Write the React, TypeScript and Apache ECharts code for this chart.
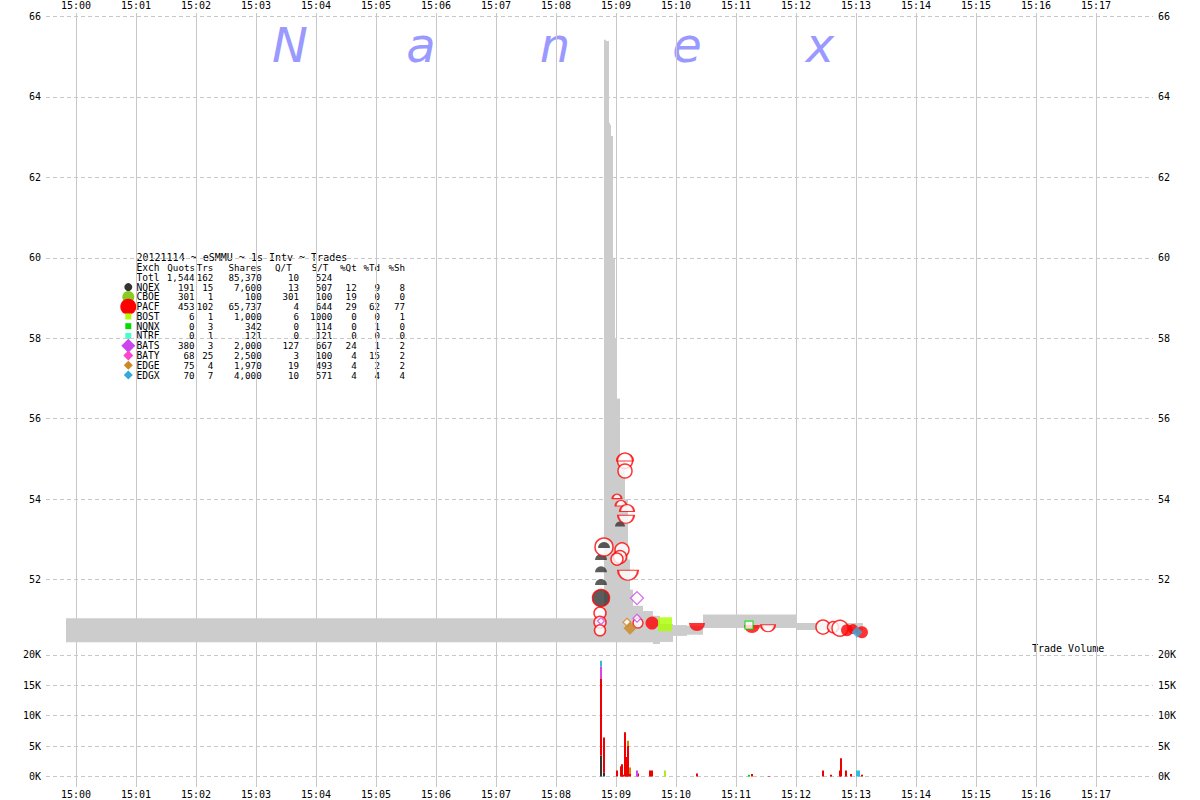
import React, { useEffect, useRef } from "react";
import * as echarts from "echarts";

// ---- axis ticks ----
const tickSeconds = [0, 60, 120, 180, 240, 300, 360, 420, 480, 540, 600, 660, 720, 780, 840, 900, 960, 1020];
const tickLabels = ["15:00", "15:01", "15:02", "15:03", "15:04", "15:05", "15:06", "15:07", "15:08", "15:09", "15:10", "15:11", "15:12", "15:13", "15:14", "15:15", "15:16", "15:17"];
const priceTicks = [52, 54, 56, 58, 60, 62, 64, 66];
const volumeTicks = [0, 5000, 10000, 15000, 20000];

// ---- NBBO band (seconds after 15:00) ----
const nbboTime = [-10, 528, 530, 533, 534, 535, 537, 539, 541, 544, 549, 552, 554, 557, 567, 577, 584, 597, 611, 627, 721, 787];
const nbboBid = [50.44, 50.44, 50.44, 50.44, 50.44, 50.44, 50.44, 50.44, 50.44, 50.44, 50.44, 50.44, 50.44, 50.44, 50.44, 50.40, 50.45, 50.60, 50.63, 50.80, 50.75];
const nbboAsk = [51.04, 65.42, 65.39, 63.36, 63.30, 63.03, 60.0, 58.0, 56.5, 55.0, 54.0, 52.5, 51.75, 51.35, 51.22, 51.10, 50.90, 50.87, 50.85, 51.13, 50.92];

// ---- trade markers [t, price, size] ----
const redOutlineCircles = [
  [549, 54.95, 15], [549, 54.70, 14], [528, 52.81, 18], [546, 52.74, 14], [544, 52.56, 13], [541, 52.51, 12],
  [524, 51.17, 12], [524, 50.94, 12], [524, 50.74, 11], [562, 50.92, 10], [747, 50.82, 14], [757, 50.82, 11], [764, 50.79, 16],
];
const redFilledCircles = [[576, 50.92, 13], [771, 50.74, 12], [777, 50.77, 10], [786, 50.69, 12]];
const darkCircles = [[525, 51.54, 17]];
const darkDomes = [[528, 52.86, 12], [525, 52.56, 12], [525, 52.26, 12], [525, 51.94, 12], [544, 53.38, 10]];
const redOutlineDomes = [[541, 54.07, 9], [545, 53.90, 11], [551, 53.78, 14], [549, 55.05, 16]];
const redOutlineBowls = [[550, 53.50, 16], [552, 52.11, 20], [692, 50.79, 14]];
const redFilledBowls = [[621, 50.82, 16], [676, 50.77, 16]];
const batsDiamonds = [[561, 51.54, 13], [561, 51.04, 8], [525, 50.97, 7]];
const edgeDiamonds = [[554, 50.79, 13]];
const edgeSmallDiamonds = [[551, 50.94, 8]];
const edgxDiamonds = [[781, 50.69, 11]];
const bostSquares = [[589, 50.89, 14]];
const nqnxSquares = [[673, 50.87, 8]];

// ---- volume [t, shares], listed bottom-to-top in stacking order ----
const volNQEX = [[525, 3460], [528, 600]];
const volPACF = [[525, 12600], [528, 5800], [541, 1000], [545, 1700], [546, 2000], [547, 300], [549, 7300], [550, 1000], [551, 3200], [552, 5000], [554, 400], [562, 500], [574, 1000], [576, 1000], [621, 500], [676, 400], [693, 100], [747, 1000], [755, 300], [764, 1000], [765, 3000], [770, 1000], [775, 400], [786, 300]];
const volBATS = [[561, 1000]];
const volBOST = [[589, 1000]];
const volNQNX = [[673, 300]];
const volEDGE = [[552, 900], [554, 1100]];
const volBATY = [[525, 2000]];
const volEDGX = [[525, 1000], [781, 1000], [783, 1000]];

// ---- summary table ----
const tableTitle = "20121114 ~ eSMMU ~ 1s Intv ~ Trades";
const tableHeader = ["Exch", "Quots", "Trs", "Shares", "Q/T", "S/T", "%Qt", "%Td", "%Sh"];
const tableExch = ["Totl", "NQEX", "CBOE", "PACF", "BOST", "NQNX", "NTRF", "BATS", "BATY", "EDGE", "EDGX"];
const tableQuots = ["1,544", "191", "301", "453", "6", "0", "0", "380", "68", "75", "70"];
const tableTrs = ["162", "15", "1", "102", "1", "3", "1", "3", "25", "4", "7"];
const tableShares = ["85,370", "7,600", "100", "65,737", "1,000", "342", "121", "2,000", "2,500", "1,970", "4,000"];
const tableQT = ["10", "13", "301", "4", "6", "0", "0", "127", "3", "19", "10"];
const tableST = ["524", "507", "100", "644", "1000", "114", "121", "667", "100", "493", "571"];
const tablePQ = ["", "12", "19", "29", "0", "0", "0", "24", "4", "4", "4"];
const tablePT = ["", "9", "0", "62", "0", "1", "0", "1", "15", "2", "4"];
const tablePS = ["", "8", "0", "77", "1", "0", "0", "2", "2", "2", "4"];

const titleLetters = ["N", "a", "n", "e", "x"];

const MONO = '"DejaVu Sans Mono", monospace';
const GRID_COLOR = "#c8c8c8";

const DOME = "path://M0,10A10,10,0,0,1,20,10Z";
const BOWL = "path://M0,0A10,10,0,0,0,20,0Z";

const volSeriesList: [number[][], string][] = [
  [volNQEX, "#333333"],
  [volPACF, "#ee0000"],
  [volBATS, "#cc44ee"],
  [volBOST, "#aaee22"],
  [volNQNX, "#00dd00"],
  [volEDGE, "#cc8800"],
  [volBATY, "#dd44dd"],
  [volEDGX, "#33bbdd"],
];

function scatter(name: string, data: number[][], symbol: string, itemStyle: any, half = false) {
  return {
    name,
    type: "scatter",
    xAxisIndex: 0,
    yAxisIndex: 0,
    data,
    symbol,
    symbolSize: (v: number[]) => (half ? [v[2], v[2] / 2] : v[2]),
    itemStyle,
    z: 5,
    silent: true,
  };
}

function buildVolumeRects() {
  const cum: Record<number, number> = {};
  const rects: any[] = [];
  volSeriesList.forEach(([data], k) => {
    data.forEach(([t, v]) => {
      const base = cum[t] || 0;
      rects.push([t, base, base + v, k]);
      cum[t] = base + v;
    });
  });
  return rects;
}

function buildGraphic() {
  const els: any[] = [];
  const txt = (text: string, x: number, y: number, align: string = "left", size = 9.6) => ({
    type: "text",
    x,
    y,
    silent: true,
    style: { text, fill: "#000", font: `${size}px ${MONO}`, textAlign: align, textVerticalAlign: "middle" },
  });
  const row0 = 257.8;
  const dy = 9.77;
  els.push(txt(tableTitle, 136.5, row0, "left", 10));
  const hdrRight = [195, 213.3, 261.7, 291.7, 328.3, 356.7, 380, 405];
  els.push(txt(tableHeader[0], 136.5, row0 + dy));
  for (let i = 1; i < tableHeader.length; i++) els.push(txt(tableHeader[i], hdrRight[i - 1], row0 + dy, "right", 9.2));
  const colRight = [194.5, 213.3, 261.7, 299, 332.3, 356.7, 380, 405];
  for (let r = 0; r < tableExch.length; r++) {
    const y = row0 + dy * (r + 2);
    els.push(txt(tableExch[r], 136.5, y));
    const cells = [tableQuots[r], tableTrs[r], tableShares[r], tableQT[r], tableST[r], tablePQ[r], tablePT[r], tablePS[r]];
    cells.forEach((c, i) => {
      if (c) els.push(txt(c, colRight[i], y, "right", 9.2));
    });
  }
  // legend glyphs
  const mx = 128.3;
  const yOf = (r: number) => row0 + dy * (r + 2);
  els.push({ type: "circle", silent: true, shape: { cx: mx, cy: yOf(1), r: 4 }, style: { fill: "#333333" } });
  els.push({ type: "circle", silent: true, shape: { cx: mx, cy: yOf(2), r: 6 }, style: { fill: "#88cc22" } });
  els.push({ type: "circle", silent: true, shape: { cx: mx, cy: yOf(3), r: 8 }, style: { fill: "#ff0000" } });
  els.push({ type: "rect", silent: true, shape: { x: mx - 3, y: yOf(4) - 3, width: 6, height: 6 }, style: { fill: "#aaff00" } });
  els.push({ type: "rect", silent: true, shape: { x: mx - 3, y: yOf(5) - 3, width: 6, height: 6 }, style: { fill: "#00dd00" } });
  els.push({ type: "rect", silent: true, shape: { x: mx - 3, y: yOf(6) - 3, width: 6, height: 6 }, style: { fill: "#44ffcc" } });
  const diamond = (cy: number, h: number, fill: string) => ({
    type: "polygon",
    silent: true,
    shape: { points: [[mx, cy - h], [mx + h, cy], [mx, cy + h], [mx - h, cy]] },
    style: { fill },
  });
  els.push(diamond(yOf(7), 7, "#cc44ee"));
  els.push(diamond(yOf(8), 5, "#ff44cc"));
  els.push(diamond(yOf(9), 4.5, "#cc8822"));
  els.push(diamond(yOf(10), 4.5, "#33aadd"));

  // Nanex watermark
  const lx = [290, 421, 555, 687, 820];
  titleLetters.forEach((l, i) => {
    els.push({
      type: "text",
      x: lx[i],
      y: 45,
      silent: true,
      style: { text: l, fill: "#9999ff", font: `italic 48px "DejaVu Sans", sans-serif`, textAlign: "center", textVerticalAlign: "middle" },
    });
  });
  els.push(txt("Trade Volume", 1032, 648, "left", 10));
  return els;
}

function buildOption() {
  const segs = nbboBid.map((b, i) => [nbboTime[i], nbboTime[i + 1], b, nbboAsk[i]]);
  const volRects = buildVolumeRects();
  const labelStyle = { fontFamily: MONO, fontSize: 10, color: "#000" };
  const xBase = (gridIndex: number, position: string, margin: number) => ({
    type: "value",
    gridIndex,
    position,
    min: -30,
    max: 1077,
    axisLine: { show: false },
    axisTick: { show: false, customValues: tickSeconds },
    axisLabel: {
      ...labelStyle,
      margin,
      customValues: tickSeconds,
      formatter: (v: number) => tickLabels[Math.round(v / 60)] ?? "",
    },
    splitLine: { show: true, lineStyle: { color: GRID_COLOR, width: 1, type: "solid" } },
  });
  const yPrice = (position: string, split: boolean) => ({
    type: "value",
    gridIndex: 0,
    position,
    min: 50.25,
    max: 66.087,
    axisLine: { show: false },
    axisTick: { show: false, customValues: priceTicks },
    axisLabel: { ...labelStyle, margin: 5, customValues: priceTicks, formatter: (v: number) => String(v) },
    splitLine: { show: split, lineStyle: { color: GRID_COLOR, width: 1, type: [4, 3] } },
  });
  const yVol = (position: string, split: boolean) => ({
    type: "value",
    gridIndex: 1,
    position,
    min: -1730,
    max: 20820,
    axisLine: { show: false },
    axisTick: { show: false, customValues: volumeTicks },
    axisLabel: { ...labelStyle, margin: 5, customValues: volumeTicks, formatter: (v: number) => `${v / 1000}K` },
    splitLine: { show: split, lineStyle: { color: GRID_COLOR, width: 1, type: [4, 3] } },
  });

  return {
    animation: false,
    backgroundColor: "#ffffff",
    grid: [
      { left: 46, right: 47, top: 12, height: 638 },
      { left: 46, right: 47, top: 650, height: 137 },
    ],
    xAxis: [xBase(0, "top", 3), xBase(1, "bottom", 2)],
    yAxis: [yPrice("left", true), yPrice("right", false), yVol("left", true), yVol("right", false)],
    series: [
      {
        name: "NBBO",
        type: "custom",
        xAxisIndex: 0,
        yAxisIndex: 0,
        data: segs,
        encode: { x: [0, 1], y: [2, 3] },
        silent: true,
        z: 2,
        renderItem: (params: any, api: any) => {
          const p0 = api.coord([api.value(0), api.value(3)]);
          const p1 = api.coord([api.value(1), api.value(2)]);
          return {
            type: "rect",
            shape: { x: p0[0], y: p0[1], width: p1[0] - p0[0], height: p1[1] - p0[1] },
            style: { fill: "#cccccc" },
          };
        },
      },
      {
        name: "Volume",
        type: "custom",
        xAxisIndex: 1,
        yAxisIndex: 2,
        data: volRects,
        encode: { x: 0, y: [1, 2] },
        silent: true,
        z: 3,
        renderItem: (params: any, api: any) => {
          const p0 = api.coord([api.value(0), api.value(2)]);
          const p1 = api.coord([api.value(0), api.value(1)]);
          const color = volSeriesList[api.value(3)][1];
          return {
            type: "rect",
            shape: { x: p0[0] - 1, y: p0[1], width: 2, height: p1[1] - p0[1] },
            style: { fill: color },
          };
        },
      },
      scatter("darkDome", darkDomes, DOME, { color: "#333333" }, true),
      scatter("redOutlineCircle", redOutlineCircles, "circle", { color: "#ffffff", borderColor: "#ff0000", borderWidth: 1.5 }),
      scatter("darkDomeTop", darkDomes.slice(0, 1), DOME, { color: "#333333" }, true),
      scatter("redFilledCircle", redFilledCircles, "circle", { color: "#ff0000" }),
      scatter("darkCircle", darkCircles, "circle", { color: "#333333", borderColor: "#ff0000", borderWidth: 1.5 }),
      scatter("redOutlineDome", redOutlineDomes, DOME, { color: "#ffffff", borderColor: "#ff0000", borderWidth: 1.5 }, true),
      scatter("redOutlineBowl", redOutlineBowls, BOWL, { color: "#ffffff", borderColor: "#ff0000", borderWidth: 1.5 }, true),
      scatter("redFilledBowl", redFilledBowls, BOWL, { color: "#ff0000" }, true),
      scatter("BATS", batsDiamonds, "diamond", { color: "#ffffff", borderColor: "#cc44ee", borderWidth: 1.2 }),
      scatter("EDGEsmall", edgeSmallDiamonds, "diamond", { color: "#ffffff", borderColor: "#cc8822", borderWidth: 1.2 }),
      scatter("EDGE", edgeDiamonds, "diamond", { color: "#cc8822" }),
      scatter("EDGX", edgxDiamonds, "diamond", { color: "#33aadd" }),
      scatter("BOST", bostSquares, "rect", { color: "#aaff00" }),
      scatter("NQNX", nqnxSquares, "rect", { color: "#ffffff", borderColor: "#00dd00", borderWidth: 1.2 }),
    ],
    graphic: buildGraphic(),
  };
}

export default function App() {
  const ref = useRef<HTMLDivElement>(null);
  useEffect(() => {
    if (!ref.current) return;
    const chart = echarts.init(ref.current, null, { renderer: "svg" });
    chart.setOption(buildOption() as any);
    return () => chart.dispose();
  }, []);
  return (
    <div
      ref={ref}
      style={{ position: "fixed", left: 0, top: 0, width: 1200, height: 800, background: "#fff" }}
    />
  );
}
